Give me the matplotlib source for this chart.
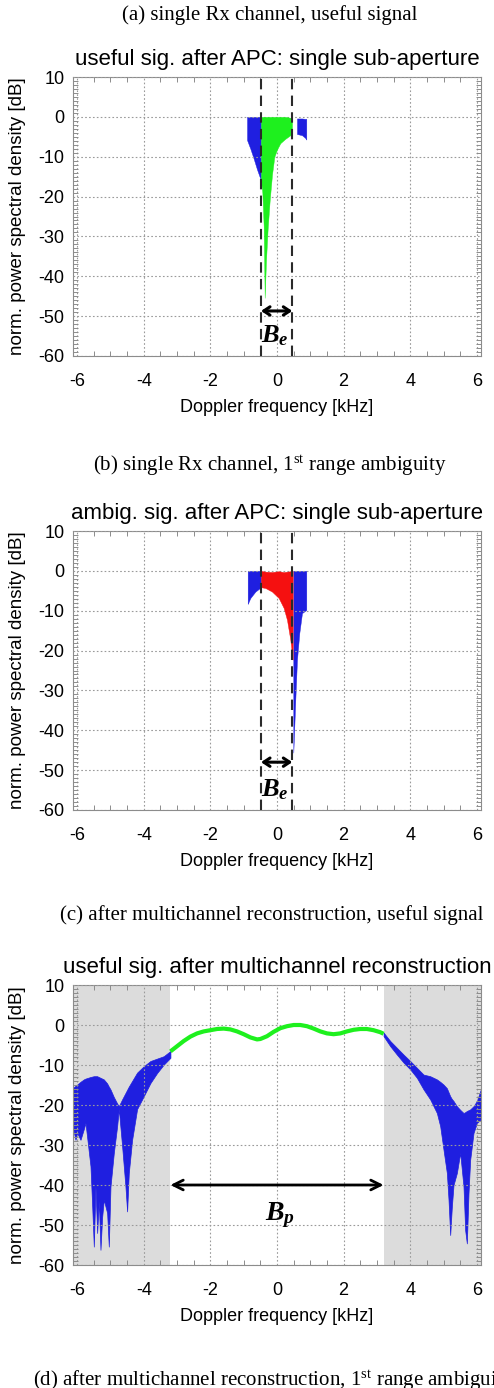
import matplotlib
matplotlib.use("Agg")
import matplotlib.pyplot as plt
import numpy as np
from matplotlib.ticker import MultipleLocator

plt.rcParams['font.family'] = ['Liberation Sans', 'DejaVu Sans']
plt.rcParams['axes.unicode_minus'] = False
plt.rcParams['mathtext.fontset'] = 'custom'
plt.rcParams['mathtext.it'] = 'Liberation Serif:italic:bold'
plt.rcParams['mathtext.rm'] = 'Liberation Serif:italic:bold'

# ---------------- data ----------------
# (a) useful signal, single channel after APC
freq_a = [-0.90, -0.80, -0.70, -0.60, -0.48, -0.44, -0.40, -0.37, -0.33,
          -0.28, -0.22, -0.15, -0.08, 0.00, 0.10, 0.25, 0.45, 0.60, 0.75,
          0.85, 0.88]
low_a = [-5.8, -8.0, -10.5, -13.2, -16.0, -19.0, -27.5, -45.4, -36.0,
         -28.0, -21.0, -14.5, -10.0, -8.2, -6.6, -5.5, -4.3, -4.3, -4.6,
         -5.3, -5.7]
up_a = [0.0, 0.0, 0.0, 0.0, 0.0, 0.0, 0.0, 0.0, 0.0, 0.0, 0.0, 0.0, 0.0,
        0.0, 0.0, 0.0, -0.3, -0.4, -0.4, -0.5, -0.5]

# (b) first range ambiguity, single channel after APC
freq_b = [-0.88, -0.80, -0.65, -0.48, -0.35, -0.15, 0.05, 0.20, 0.30, 0.40,
          0.47, 0.49, 0.55, 0.60, 0.67, 0.75, 0.88]
low_b = [-8.3, -6.8, -5.2, -4.1, -4.3, -5.2, -6.8, -9.3, -12.3, -17.3,
         -22.3, -45.6, -32.3, -22.3, -15.6, -10.6, -9.8]
up_b = [0.0, 0.0, 0.0, 0.0, -0.2, -0.3, -0.1, -0.3, -0.2, -0.1, 0.0, 0.0,
        0.0, 0.0, 0.0, 0.0, 0.0]

# elementary bandwidth limits
be_lo = -0.48
be_hi = 0.46

# (c) useful signal after multichannel reconstruction
freq_c_pass = [-3.2, -3.0, -2.8, -2.6, -2.4, -2.2, -2.0, -1.8, -1.6, -1.4,
               -1.2, -1.0, -0.8, -0.6, -0.5, -0.3, -0.1, 0.1, 0.3, 0.5, 0.7,
               0.9, 1.1, 1.3, 1.5, 1.7, 1.9, 2.1, 2.3, 2.5, 2.7, 2.9, 3.1, 3.2]
psd_c_pass = [-6.6, -5.3, -4.0, -2.9, -2.1, -1.6, -1.3, -1.0, -0.9, -1.1,
              -1.6, -2.3, -3.1, -3.6, -3.5, -2.8, -1.7, -0.8, -0.3, 0.0, 0.0,
              -0.3, -0.9, -1.6, -2.1, -2.3, -2.1, -1.6, -1.2, -1.0, -1.0,
              -1.3, -1.8, -2.2]

freq_c_left = [-6.12, -6.05, -6.00, -5.90, -5.80, -5.75, -5.60, -5.55, -5.50,
               -5.45, -5.40, -5.35, -5.30, -5.25, -5.20, -5.10, -5.05, -5.00,
               -4.90, -4.80, -4.75, -4.65, -4.55, -4.50, -4.45, -4.35, -4.20,
               -4.00, -3.80, -3.60, -3.40, -3.20]
up_c_left = [-15.7, -15.2, -14.9, -14.2, -13.6, -13.4, -13.0, -12.9, -12.8,
             -12.8, -12.8, -13.0, -13.2, -13.4, -13.6, -14.6, -15.4, -16.1,
             -18.0, -19.6, -20.3, -18.6, -17.0, -16.2, -15.4, -14.0, -11.9,
             -10.3, -9.0, -8.4, -7.8, -6.5]
low_c_left = [-26.0, -28.7, -27.0, -28.7, -26.0, -24.5, -35.3, -45.0, -55.4,
              -40.4, -52.0, -44.0, -56.2, -48.0, -43.7, -47.0, -55.4, -40.4,
              -32.0, -25.3, -21.0, -30.3, -40.4, -46.6, -37.0, -28.7, -21.0,
              -17.8, -14.5, -12.0, -9.9, -8.2]

freq_c_right = [3.2, 3.4, 3.6, 3.8, 4.0, 4.2, 4.4, 4.6, 4.8, 4.9, 5.0, 5.1,
                5.15, 5.2, 5.25, 5.3, 5.4, 5.5, 5.6, 5.65, 5.7, 5.75, 5.8,
                5.9, 6.0, 6.12]
up_c_right = [-1.9, -4.0, -5.7, -7.4, -9.0, -10.7, -12.4, -12.8, -13.6,
              -14.2, -14.9, -15.8, -16.8, -17.8, -18.5, -19.0, -20.3, -21.2,
              -22.0, -21.8, -21.5, -21.3, -21.1, -20.3, -19.0, -16.1]
low_c_right = [-2.8, -5.3, -7.4, -9.4, -11.1, -13.2, -16.1, -18.6, -22.0,
               -25.3, -31.2, -37.0, -43.7, -52.5, -45.4, -40.0, -37.0, -32.0,
               -40.4, -51.3, -54.6, -42.0, -33.7, -27.0, -24.5, -23.6]

# processed bandwidth limits
bp_lo = -3.2
bp_hi = 3.2

xticks = [-6, -4, -2, 0, 2, 4, 6]
yticks = [-60, -50, -40, -30, -20, -10, 0, 10]

titles = ["useful sig. after APC: single sub-aperture",
          "ambig. sig. after APC: single sub-aperture",
          "useful sig. after multichannel reconstruction"]
captions = ["(a) single Rx channel, useful signal",
            "(b) single Rx channel, 1$^{\\mathregular{st}}$ range ambiguity",
            "(c) after multichannel reconstruction, useful signal",
            "(d) after multichannel reconstruction, 1$^{\\mathregular{st}}$ range ambiguity"]

BLUE = '#1f1fe0'
GREEN = '#1ef01e'
RED = '#f51010'
SHADE = '#dcdcdc'

W, H = 494, 1388
fig = plt.figure(figsize=(W / 100, H / 100), dpi=100)


def make_axes(top_px, bottom_px, left_px=73, right_px=481):
    return fig.add_axes([left_px / W, 1 - bottom_px / H,
                         (right_px - left_px) / W, (bottom_px - top_px) / H])


def style_axes(ax, title):
    ax.set_xlim(-6.125, 6.125)
    ax.set_ylim(-60, 10)
    ax.set_xticks(xticks)
    ax.set_yticks(yticks)
    ax.xaxis.set_minor_locator(MultipleLocator(0.5))
    ax.yaxis.set_minor_locator(MultipleLocator(1))
    ax.tick_params(which='both', direction='in', top=True, right=True,
                   color='#8c8c8c', width=0.7)
    ax.tick_params(which='major', length=0)
    ax.tick_params(which='minor', length=3.5)
    ax.tick_params(axis='x', which='major', labelsize=13, pad=12)
    ax.tick_params(axis='y', which='major', labelsize=13, pad=6)
    ax.grid(True, which='major', linestyle=(0, (1.5, 2.0)), color='#9a9a9a',
            linewidth=0.8)
    ax.set_axisbelow(False)
    for sp in ax.spines.values():
        sp.set_color('#8c8c8c')
        sp.set_linewidth(0.8)
    ax.set_xlabel("Doppler frequency [kHz]", fontsize=13)
    ax.xaxis.set_label_coords(0.5, -0.183)
    ax.xaxis.label.set_va('center')
    ax.set_ylabel("norm. power spectral density [dB]", fontsize=13.5)
    ax.yaxis.set_label_coords(-0.135, 0.5)
    ax.yaxis.label.set_va('center')
    ax.set_title(title, fontsize=16, y=1.032, va='center')


def banded_fill(ax, f, lo, up, f_lo, f_hi, c_out, c_in):
    f = np.asarray(f)
    ax.fill_between(f, lo, up, where=f <= f_lo, color=c_out, lw=0.3,
                    edgecolor=c_out, zorder=2)
    ax.fill_between(f, lo, up, where=f >= f_hi, color=c_out, lw=0.3,
                    edgecolor=c_out, zorder=2)
    ax.fill_between(f, lo, up, where=(f >= f_lo) & (f <= f_hi), color=c_in,
                    lw=0.3, edgecolor=c_in, zorder=3)


def be_marks(ax, arrow_y, label_y):
    for xv in (be_lo, be_hi):
        ax.axvline(xv, color='#2a2a2a', lw=1.5, linestyle=(0, (5, 3)),
                   zorder=4)
    ax.annotate('', xy=(be_lo, arrow_y), xytext=(be_hi, arrow_y),
                arrowprops=dict(arrowstyle='<->,head_length=0.45,head_width=0.3',
                                color='black', lw=2.2, shrinkA=0, shrinkB=0),
                zorder=5)
    ax.text((be_lo + be_hi) / 2 - 0.05, label_y, r'$B_e$', fontsize=19,
            ha='center', va='center', zorder=5)


# ---- panel (a)
ax1 = make_axes(77, 356)
banded_fill(ax1, freq_a, low_a, up_a, be_lo, be_hi, BLUE, GREEN)
be_marks(ax1, -48.7, -55.0)
style_axes(ax1, titles[0])

# ---- panel (b)
ax2 = make_axes(531, 810)
banded_fill(ax2, freq_b, low_b, up_b, be_lo, be_hi + 0.01, BLUE, RED)
be_marks(ax2, -48.0, -54.8)
style_axes(ax2, titles[1])

# ---- panel (c)
ax3 = make_axes(985, 1265)
ax3.axvspan(-6.2, bp_lo, color=SHADE, zorder=0, lw=0)
ax3.axvspan(bp_hi, 6.2, color=SHADE, zorder=0, lw=0)
ax3.fill_between(freq_c_left, low_c_left, up_c_left, color=BLUE, lw=0.5,
                 edgecolor=BLUE, zorder=2)
ax3.fill_between(freq_c_right, low_c_right, up_c_right, color=BLUE, lw=0.5,
                 edgecolor=BLUE, zorder=2)
ax3.plot(freq_c_pass, psd_c_pass, color=GREEN, lw=3.0, zorder=3,
         solid_capstyle='butt')
ax3.annotate('', xy=(bp_lo, -40), xytext=(bp_hi, -40),
             arrowprops=dict(arrowstyle='<->,head_length=0.7,head_width=0.35',
                             color='black', lw=2.0, shrinkA=0, shrinkB=0),
             zorder=5)
ax3.text(0.1, -47.5, r'$B_p$', fontsize=20, ha='center', va='center',
         zorder=5)
style_axes(ax3, titles[2])

# ---- captions
cap_kw = dict(family='Liberation Serif', fontsize=15, va='center')
fig.text(270 / W, 1 - 15 / H, captions[0], ha='center', **cap_kw)
fig.text(270 / W, 1 - 466 / H, captions[1], ha='center', **cap_kw)
fig.text(272 / W, 1 - 915 / H, captions[2], ha='center', **cap_kw)
fig.text(33 / W, 1 - 1381 / H, captions[3], ha='left', **cap_kw)

fig.savefig('out.png', dpi=100)
